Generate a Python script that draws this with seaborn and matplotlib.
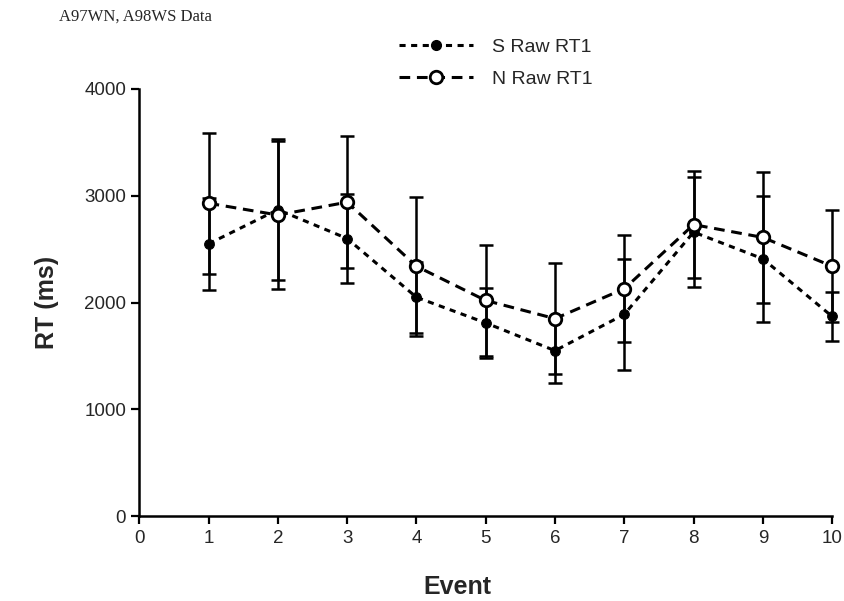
import seaborn as sns
import matplotlib.pyplot as plt
import pandas as pd
from matplotlib.lines import Line2D

sns.set_style("ticks")
plt.rcParams['font.family'] = ['Liberation Sans', 'DejaVu Sans']

### data
events = [1, 2, 3, 4, 5, 6, 7, 8, 9, 10]
s_raw = [2550, 2870, 2600, 2050, 1810, 1550, 1890, 2660, 2410, 1870]
s_err = [430, 660, 420, 330, 330, 300, 520, 515, 590, 230]
n_raw = [2930, 2820, 2940, 2340, 2020, 1850, 2130, 2730, 2610, 2340]
n_err = [660, 690, 620, 650, 520, 520, 500, 500, 610, 525]

df = pd.DataFrame({'Event': events * 2,
                   'RT': s_raw + n_raw,
                   'series': ['S Raw RT1'] * len(events) + ['N Raw RT1'] * len(events)})

fig, ax = plt.subplots(figsize=(8.44, 6.01), dpi=100)
fig.subplots_adjust(left=0.165, right=0.986, top=0.852, bottom=0.141)

### error bars first, lines and markers on top
for vals, errs in [(s_raw, s_err), (n_raw, n_err)]:
    eb = ax.errorbar(events, vals, yerr=errs, fmt='none', ecolor='black', elinewidth=1.8,
                     capsize=5, capthick=1.8, zorder=2)
    for art in eb.lines[1] + eb.lines[2]:
        art.set_clip_on(False)

sns.lineplot(data=df[df['series'] == 'S Raw RT1'], x='Event', y='RT', ax=ax, color='black',
             linewidth=2.2, marker='o', markersize=7, markerfacecolor='black', markeredgecolor='black',
             dashes=False, zorder=3, clip_on=False)
sns.lineplot(data=df[df['series'] == 'N Raw RT1'], x='Event', y='RT', ax=ax, color='black',
             linewidth=2.2, marker='o', markersize=9, markerfacecolor='white', markeredgecolor='black',
             markeredgewidth=2, dashes=False, zorder=4, clip_on=False)
ax.lines[-2].set_dashes([2, 1.8])
ax.lines[-1].set_dashes([3.5, 2.2])

ax.set_xlim(0, 10)
ax.set_ylim(0, 4000)
ax.set_xticks(range(0, 11))
ax.set_yticks([0, 1000, 2000, 3000, 4000])
ax.tick_params(axis='both', labelsize=13.5, length=6, width=1.6, direction='out', color='black')
ax.tick_params(axis='x', pad=4)
for side in ['left', 'bottom']:
    ax.spines[side].set_linewidth(1.8)
    ax.spines[side].set_color('black')
sns.despine(ax=ax)

ax.set_xlabel('')
ax.set_ylabel('RT (ms)', fontsize=18, fontweight='bold', labelpad=18)
fig.text(0.542, 0.003, 'Event', fontsize=18, fontweight='bold', ha='center', va='bottom')

fig.text(0.07, 0.972, 'A97WN, A98WS Data', fontsize=12, family='Liberation Serif', ha='left', va='center')

handles = [Line2D([], [], color='black', linewidth=2.2, dashes=[2, 1.8], marker='o', markersize=7,
                  markerfacecolor='black'),
           Line2D([], [], color='black', linewidth=2.2, dashes=[3.5, 2.2], marker='o', markersize=9,
                  markerfacecolor='white', markeredgewidth=2)]
fig.legend(handles, ['S Raw RT1', 'N Raw RT1'], loc='upper left', bbox_to_anchor=(0.452, 0.966),
           frameon=False, fontsize=14, handlelength=3.8, labelspacing=0.75, handletextpad=1.0)

fig.savefig('out.png', dpi=100)
